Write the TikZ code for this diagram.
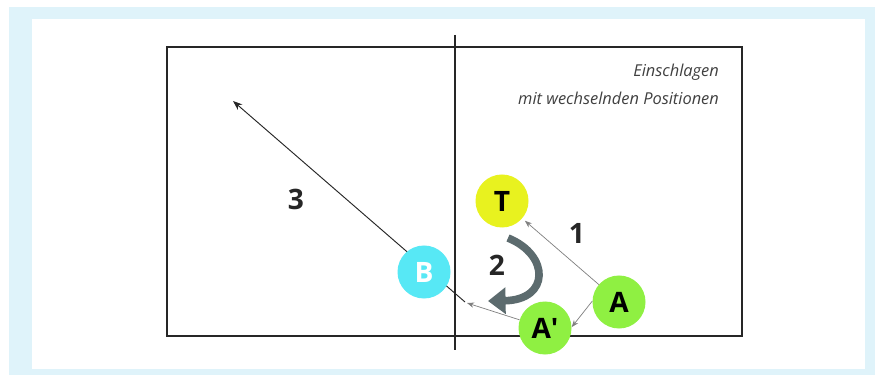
\documentclass[tikz,border=0pt]{standalone}
\usepackage{fontspec}
\setmainfont{Open Sans}
\usepackage{xcolor}
\usetikzlibrary{shapes, positioning, arrows.meta}
\definecolor{framecolor}{rgb}{0.875, 0.953, 0.980}
\definecolor{yellowball}{rgb}{0.91, 0.95, 0.12}
\definecolor{cyanball}{rgb}{0.34, 0.91, 0.96}
\definecolor{greenball}{rgb}{0.56, 0.94, 0.26}
\definecolor{turncolor}{rgb}{0.36, 0.42, 0.43}
\definecolor{textcolor}{rgb}{0.25, 0.25, 0.25}

\tikzset{
  player/.style={circle, minimum size=1.59cm, inner sep=0pt, font=\bfseries\fontsize{24}{24}\selectfont},
  passline/.style={-{Stealth[length=6pt,width=4.5pt]}, gray, line width=0.6pt},
  steplabel/.style={font=\bfseries\fontsize{24}{24}\selectfont, text=black!85}
}

\begin{document}
\begin{tikzpicture}[x=0.03cm, y=-0.03cm]
        % frame
        \fill[white] (0,0) rectangle (875,375);
        \fill[framecolor] (9,7) rectangle (875,375);
        \fill[white] (32,19) rectangle (865,369);
        \useasboundingbox (0,0) rectangle (875,375);

        % field and net
        \draw[line width=1.6pt, black!85] (167,47) rectangle (742,336);
        \draw[line width=1.2pt, black!85] (455,35) -- (455,350);

        \node[font=\itshape\fontsize{14}{14}\selectfont, text=textcolor, anchor=east] (title1) at (723,72) {Einschlagen};
        \node[font=\itshape\fontsize{14}{14}\selectfont, text=textcolor, anchor=east] (title2) at (723,98) {mit wechselnden Positionen};

        \coordinate (shotstart) at (465,302);
        \coordinate (shotend) at (233,101);
        \coordinate (setpoint) at (467,303);

        \draw[-{Stealth[length=8pt,width=6pt]}, line width=0.8pt, black!85] (shotstart) -- (shotend);

        \node[player, fill=yellowball] (T) at (502,201) {T};
        \node[player, fill=cyanball, text=white] (B) at (424,272) {B};
        \node[player, fill=greenball] (A) at (619,302) {A};
        \node[player, fill=greenball] (A2) at (545,328) {A\textquotesingle};

        \draw[passline, shorten >=3pt] (A) -- (T);
        \draw[passline] (A.178) -- (A2.2);
        \draw[passline] (A2) -- (setpoint);

        \draw[-{Triangle[length=15pt,width=22pt]}, line width=6.5pt, turncolor] (508,238) .. controls (550,255) and (550,300) .. (488,301);

        \node[steplabel] (one) at (577,233) {1};
        \node[steplabel] (two) at (497,265) {2};
        \node[steplabel] (three) at (296,199) {3};
      \end{tikzpicture}
\end{document}
